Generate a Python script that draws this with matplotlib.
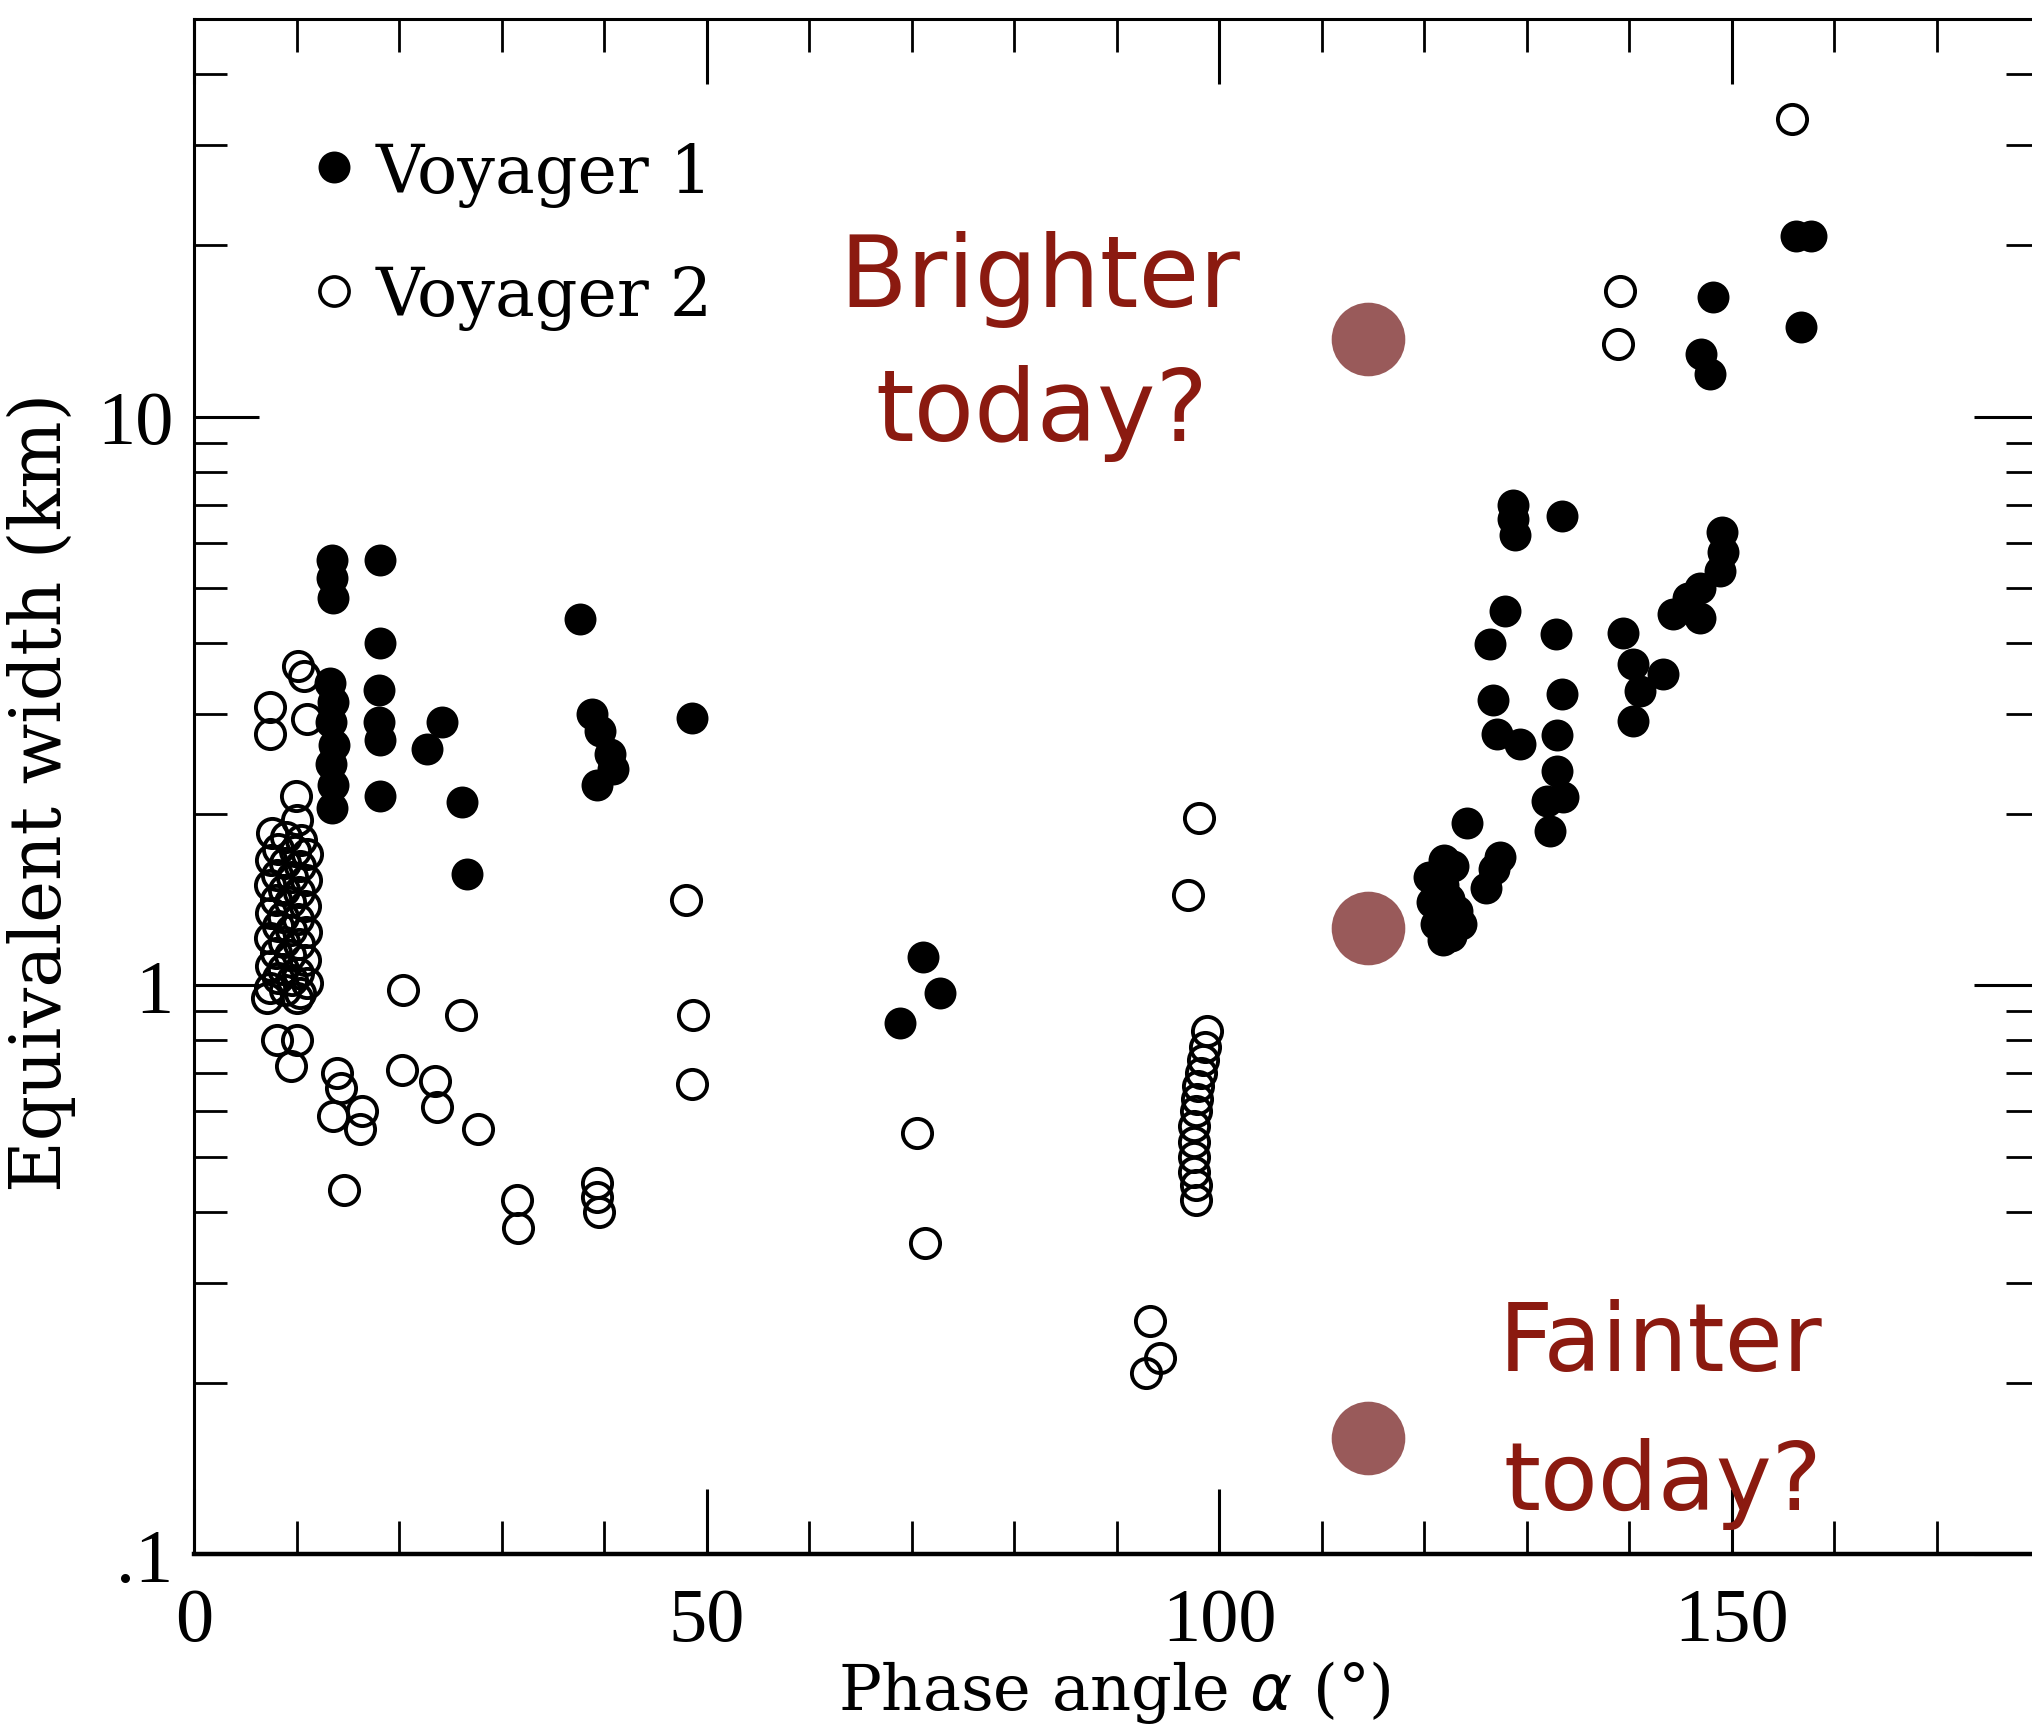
import matplotlib.pyplot as plt
from matplotlib.ticker import FixedLocator, FixedFormatter, LogLocator, NullFormatter, MultipleLocator

plt.rcParams['font.family'] = ['Liberation Serif', 'DejaVu Serif']

# Voyager 1 (filled symbols): phase angle (deg), equivalent width (km)
v1_phase = [13.5, 13.5, 13.6, 13.3, 13.6, 13.4, 13.7, 13.4, 13.6, 13.5,
            18.1, 18.1, 18.0, 18.0, 18.1, 18.1,
            22.7, 24.2, 26.1, 26.6,
            37.7, 38.8, 39.6, 40.6, 40.9, 39.3, 48.6,
            68.9, 71.1, 72.8,
            120.5, 120.8, 121.2, 121.8, 122.6, 122.4, 122.8, 121.8, 123.2, 123.6,
            124.2, 126.0, 126.8, 121.9, 127.4,
            126.4, 127.9, 126.7, 127.1, 129.4,
            128.7, 128.7, 128.9, 133.5,
            132.9, 133.5, 133.0, 133.0, 132.0, 133.6, 132.3,
            139.4, 140.4, 143.3, 141.1, 140.4,
            144.3, 145.7, 146.9, 146.9, 148.9, 149.2, 149.1,
            147.0, 147.9, 148.2, 156.8, 156.3, 157.7]
v1_width = [5.6, 5.2, 4.8, 3.4, 3.15, 2.9, 2.65, 2.45, 2.25, 2.05,
            5.6, 4.0, 3.3, 2.9, 2.7, 2.15,
            2.6, 2.9, 2.1, 1.57,
            4.4, 3.0, 2.8, 2.55, 2.4, 2.25, 2.95,
            0.86, 1.12, 0.97,
            1.55, 1.4, 1.28, 1.2, 1.22, 1.42, 1.62, 1.5, 1.35, 1.28,
            1.93, 1.48, 1.6, 1.66, 1.68,
            3.98, 4.55, 3.18, 2.77, 2.66,
            7.0, 6.6, 6.2, 6.7,
            4.14, 3.25, 2.75, 2.38, 2.11, 2.14, 1.87,
            4.17, 3.67, 3.53, 3.29, 2.92,
            4.49, 4.79, 4.99, 4.42, 5.35, 5.79, 6.28,
            12.9, 11.9, 16.2, 14.4, 20.8, 20.8]

# Voyager 2 (open symbols)
v2_phase = [7.4, 7.4, 10.1, 10.7, 11.0, 9.9, 10.0,
            7.6, 9.0, 10.4, 8.2, 9.8, 11.0, 7.5, 8.9, 10.3, 8.1, 9.6, 10.9,
            7.4, 8.8, 10.2, 8.0, 9.4, 10.8, 7.5, 8.7, 10.1, 8.2, 9.5, 10.9,
            7.4, 8.8, 10.2, 8.0, 9.4, 10.8, 7.5, 8.7, 10.1, 8.2, 9.6, 11.0,
            7.4, 8.9, 10.3,
            7.1, 10.0, 8.1, 10.0, 9.5,
            13.9, 14.3, 13.6, 16.4, 16.2, 14.6,
            20.4, 26.0, 20.3, 23.5, 23.7, 27.7,
            31.5, 31.6, 39.3, 39.3, 39.5,
            48.0, 48.7, 48.6,
            70.5, 71.3,
            98.0, 97.0,
            98.8, 98.6, 98.4, 98.2, 97.9, 97.8, 97.7, 97.6, 97.6, 97.6, 97.6, 97.7, 97.7,
            93.3, 94.2, 92.9,
            139.1, 138.9, 155.9]
v2_width = [3.08, 2.77, 3.64, 3.5, 2.94, 2.15, 1.95,
            1.85, 1.82, 1.80, 1.74, 1.72, 1.70, 1.66, 1.64, 1.62, 1.56, 1.55, 1.53,
            1.50, 1.47, 1.46, 1.41, 1.40, 1.38, 1.34, 1.32, 1.31, 1.27, 1.25, 1.24,
            1.21, 1.19, 1.18, 1.14, 1.13, 1.11, 1.08, 1.07, 1.05, 1.03, 1.02, 1.01,
            0.99, 0.98, 0.97,
            0.95, 0.95, 0.80, 0.80, 0.72,
            0.70, 0.66, 0.59, 0.60, 0.56, 0.436,
            0.98, 0.885, 0.71, 0.68, 0.61, 0.56,
            0.42, 0.375, 0.45, 0.425, 0.40,
            1.41, 0.885, 0.67,
            0.55, 0.352,
            1.97, 1.44,
            0.83, 0.78, 0.74, 0.70, 0.665, 0.63, 0.60, 0.565, 0.53, 0.50, 0.47, 0.445, 0.42,
            0.257, 0.221, 0.208,
            16.6, 13.4, 33.4]

# hypothetical present-day measurements
today_phase = [114.5, 114.5, 114.5]
today_width = [13.7, 1.26, 0.16]

fig = plt.figure(figsize=(20.32, 17.33), dpi=100)
ax = fig.add_axes([0.0955, 0.1027, 0.908, 0.8857])

ax.plot(v1_phase, v1_width, 'o', color='black', ms=23, mew=0, label='Voyager 1')
ax.plot(v2_phase, v2_width, 'o', mfc='none', mec='black', ms=21, mew=2.8, label='Voyager 2')
ax.plot(today_phase, today_width, 'o', color='#995a5a', ms=53, mew=0)

ax.set_yscale('log')
ax.set_xlim(0, 180)
ax.set_ylim(0.1, 50)

ax.xaxis.set_major_locator(FixedLocator([0, 50, 100, 150]))
ax.xaxis.set_major_formatter(FixedFormatter(['0', '50', '100', '150']))
ax.xaxis.set_minor_locator(MultipleLocator(10))
ax.yaxis.set_major_locator(FixedLocator([0.1, 1, 10]))
ax.yaxis.set_major_formatter(FixedFormatter(['.1', '1', '10']))
ax.yaxis.set_minor_locator(LogLocator(base=10, subs=range(2, 10), numticks=12))
ax.yaxis.set_minor_formatter(NullFormatter())

ax.tick_params(which='both', direction='in', top=True, right=True, labelsize=55)
ax.tick_params(which='major', length=47, width=2.2)
ax.tick_params(which='minor', length=24, width=2.0)
ax.tick_params(axis='x', pad=24)
ax.tick_params(axis='y', pad=15)
for s in ax.spines.values():
    s.set_linewidth(2.2)
ax.spines['bottom'].set_linewidth(3.2)

ax.set_xlabel(r'Phase angle $\alpha$ ($\degree$)', family='DejaVu Serif', fontsize=46)
ax.xaxis.set_label_coords(0.499, -0.068)
ax.xaxis.label.set_va('top')
ax.set_ylabel('Equivalent width (km)', family='DejaVu Serif', fontsize=51)
ax.yaxis.set_label_coords(-0.064, 0.497)

# legend drawn by hand, as in the original figure
ax.plot([0.0759], [0.9036], 'o', color='black', ms=23, mew=0, transform=ax.transAxes)
ax.plot([0.0759], [0.8228], 'o', mfc='none', mec='black', ms=21, mew=2.6, transform=ax.transAxes)
ax.text(0.0986, 0.8873, 'Voyager 1', family='DejaVu Serif', fontsize=48,
        transform=ax.transAxes, va='baseline')
ax.text(0.0986, 0.8072, 'Voyager 2', family='DejaVu Serif', fontsize=48,
        transform=ax.transAxes, va='baseline')

red = '#8b1a10'
fig.text(0.5118, 0.8229, 'Brighter', family='DejaVu Sans', fontsize=71, color=red,
         ha='center', va='baseline')
fig.text(0.5128, 0.7455, 'today?', family='DejaVu Sans', fontsize=71, color=red,
         ha='center', va='baseline')
fig.text(0.8174, 0.2089, 'Fainter', family='DejaVu Sans', fontsize=68, color=red,
         ha='center', va='baseline')
fig.text(0.8184, 0.1287, 'today?', family='DejaVu Sans', fontsize=68, color=red,
         ha='center', va='baseline')

fig.savefig('out.png', dpi=100)
